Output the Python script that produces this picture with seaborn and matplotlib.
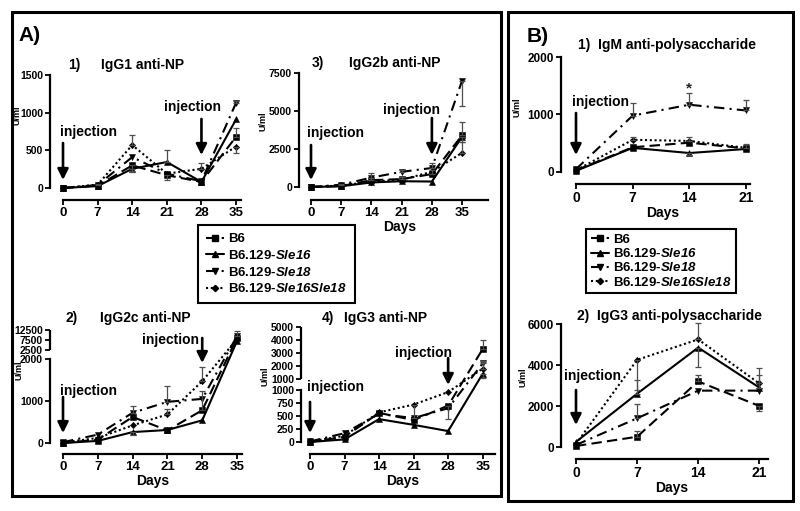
import numpy as np
import pandas as pd
import matplotlib
matplotlib.use("Agg")
import matplotlib.pyplot as plt
from matplotlib.lines import Line2D
from matplotlib.patches import Rectangle
import seaborn as sns

W, H = 800, 511

DAYS_A = [0, 7, 14, 21, 28, 35]
DAYS_B = [0, 7, 14, 21]
STRAINS = ["B6", "B6.129-Sle16", "B6.129-Sle18", "B6.129-Sle16Sle18"]
LEGEND_LABELS = ["B6", "B6.129-$\\mathrm{Sle16}$", "B6.129-$\\mathrm{Sle18}$",
                 "B6.129-$\\mathrm{Sle16Sle18}$"]

# values (U/ml); errors: + upward bar, - downward bar
IGG1_B6 = [0, 30, 300, 170, 80, 680]
IGG1_SLE16 = [0, 25, 255, 345, 80, 910]
IGG1_SLE18 = [0, 40, 410, 190, 90, 1130]
IGG1_DOUBLE = [0, 45, 570, 190, 255, 550]
IGG1_ERR_B6 = [0, 0, -80, -70, 0, 120]
IGG1_ERR_SLE16 = [0, 0, -40, 160, 0, 0]
IGG1_ERR_SLE18 = [0, 15, 0, 0, 0, 20]
IGG1_ERR_DOUBLE = [0, 0, 140, 0, 80, -80]

IGG2B_B6 = [0, 60, 450, 520, 850, 3400]
IGG2B_SLE16 = [0, 50, 300, 380, 360, 3300]
IGG2B_SLE18 = [0, 150, 620, 1000, 1250, 7000]
IGG2B_DOUBLE = [0, 100, 350, 480, 1000, 2250]
IGG2B_ERR_B6 = [0, 0, 150, 150, 300, 900]
IGG2B_ERR_SLE16 = [0, 0, 0, 0, 0, -350]
IGG2B_ERR_SLE18 = [0, 50, 300, 100, 300, -1700]
IGG2B_ERR_DOUBLE = [0, 0, 0, 0, 0, 700]

IGG2C_B6 = [0, 80, 620, 300, 780, 8500]
IGG2C_SLE16 = [0, 50, 260, 310, 540, 7000]
IGG2C_SLE18 = [20, 200, 720, 980, 1050, 9500]
IGG2C_DOUBLE = [10, 120, 420, 680, 1470, 8000]
IGG2C_ERR_B6 = [0, 0, 0, 0, 450, 0]
IGG2C_ERR_SLE16 = [0, 0, -60, 0, 0, 0]
IGG2C_ERR_SLE18 = [0, 0, 170, 370, 0, 2500]
IGG2C_ERR_DOUBLE = [0, 0, 0, 120, 330, 0]

IGG3_B6 = [0, 100, 560, 420, 700, 3300]
IGG3_SLE16 = [0, 50, 440, 330, 210, 1400]
IGG3_SLE18 = [10, 170, 540, 460, 650, 2200]
IGG3_DOUBLE = [10, 120, 570, 720, 960, 1800]
IGG3_ERR_B6 = [0, 0, 0, 0, -260, 700]
IGG3_ERR_SLE16 = [0, 0, 0, 0, 0, -350]
IGG3_ERR_SLE18 = [0, 0, 0, 260, 0, 200]
IGG3_ERR_DOUBLE = [0, 0, 0, 0, 0, 500]

IGM_B6 = [30, 430, 510, 410]
IGM_SLE16 = [20, 420, 330, 400]
IGM_SLE18 = [50, 980, 1170, 1070]
IGM_DOUBLE = [30, 560, 540, 420]
IGM_ERR_B6 = [0, 0, 0, 0]
IGM_ERR_SLE16 = [0, 0, -30, 0]
IGM_ERR_SLE18 = [0, 220, 200, 180]
IGM_ERR_DOUBLE = [0, 50, 60, 60]

POLY_B6 = [50, 500, 3200, 2000]
POLY_SLE16 = [250, 2600, 4850, 2900]
POLY_SLE18 = [100, 1400, 2750, 2750]
POLY_DOUBLE = [150, 4250, 5250, 3100]
POLY_ERR_B6 = [0, 300, 300, -250]
POLY_ERR_SLE16 = [0, 650, -950, 600]
POLY_ERR_SLE18 = [0, 700, 0, 0]
POLY_ERR_DOUBLE = [0, -1450, 800, 750]

DASHES = {"B6": (5, 2.5), "B6.129-Sle16": "", "B6.129-Sle18": (5, 2.5, 1, 2.5),
          "B6.129-Sle16Sle18": (1, 1.3)}
MARKERS = {"B6": "s", "B6.129-Sle16": "^", "B6.129-Sle18": "v", "B6.129-Sle16Sle18": "D"}

sns.set_theme(style="ticks")
plt.rcParams["font.family"] = ["Liberation Sans", "DejaVu Sans"]
plt.rcParams["font.weight"] = "bold"
plt.rcParams["axes.labelweight"] = "bold"
plt.rcParams["mathtext.fontset"] = "custom"
plt.rcParams["mathtext.rm"] = "Liberation Sans:italic:bold"
plt.rcParams["mathtext.it"] = "Liberation Sans:italic:bold"

fig = plt.figure(figsize=(W / 100, H / 100), dpi=100)
fig.patch.set_facecolor("white")


def px(x, y):
    return x / W, 1 - y / H


def add_axes(x0, x1, ybot, ytop):
    return fig.add_axes([x0 / W, 1 - ybot / H, (x1 - x0) / W, (ybot - ytop) / H])


def broken_scale(b_lo, b_hi, a1, a2, off):
    # piecewise y scale: lower segment up to b_lo, jump, upper segment from b_hi
    t_lo = b_lo * a1

    def fwd(v):
        v = np.asarray(v, dtype=float)
        return np.where(v <= b_lo, v * a1, off + (v - b_hi) * a2)

    def inv(t):
        t = np.asarray(t, dtype=float)
        up = b_hi + (t - off) / a2
        return np.where(t <= t_lo, t / a1, np.where(up < b_hi, b_lo, up))
    return fwd, inv


def draw_panel(ax, days, series, errors, xmax, ymax, yticks, ytl, off_l, off_b,
               xfs, yfs, xlabel=True, scale=None, lower_top=None, upper_bottom=None):
    df = pd.DataFrame({
        "day": np.tile(days, len(STRAINS)),
        "value": np.concatenate([np.asarray(s, dtype=float) for s in series]),
        "strain": np.repeat(STRAINS, len(days)),
    })
    if scale is not None:
        ax.set_yscale("function", functions=scale)
    sns.lineplot(data=df, x="day", y="value", style="strain", style_order=STRAINS,
                 dashes=DASHES, markers=MARKERS, color="black", lw=1.5, markersize=4.3,
                 markeredgecolor="black", markeredgewidth=0.4, estimator=None,
                 legend=False, ax=ax)
    for ln in ax.lines:
        ln.set_clip_on(False)
        if ln.get_marker() == "D":
            ln.set_markersize(3.2)
    for vals, errs in zip(series, errors):
        e = np.asarray(errs, dtype=float)
        v = np.asarray(vals, dtype=float)
        m = e != 0
        if not m.any():
            continue
        ebc = ax.errorbar(np.asarray(days)[m], v[m],
                          yerr=[np.clip(-e[m], 0, None), np.clip(e[m], 0, None)],
                          fmt="none", ecolor="#4d4d4d", elinewidth=0.9, capsize=2,
                          capthick=0.9)
        for a in ebc.get_children():
            a.set_clip_on(False)
    ax.set_xlim(0, xmax)
    ax.set_ylim(0, ymax)
    ax.patch.set_visible(False)
    ax.grid(False)
    for s in ("top", "right"):
        ax.spines[s].set_visible(False)
    for s in ("left", "bottom"):
        ax.spines[s].set_linewidth(1.6)
        ax.spines[s].set_color("black")
    width_px = ax.get_position().width * W
    lx = -off_l / width_px
    ax.spines["left"].set_position(("axes", lx))
    ax.spines["bottom"].set_position(("outward", off_b * 0.72))
    ax.spines["bottom"].set_bounds(0, xmax)
    ax.spines["left"].set_bounds(0, lower_top if lower_top else ymax)
    if lower_top:
        ax.plot([lx, lx], [upper_bottom, ymax], transform=ax.get_yaxis_transform(),
                color="black", lw=1.6, clip_on=False, solid_capstyle="butt")
    ax.set_xticks(days)
    ax.set_xticklabels([str(d) for d in days], fontsize=xfs, fontweight="bold")
    ax.set_yticks(yticks)
    ax.set_yticklabels(ytl, fontsize=yfs, fontweight="bold")
    ax.tick_params(axis="both", direction="out", length=3.5, width=1.3, color="black",
                   pad=1.5, labelcolor="black")
    ax.set_ylabel("")
    if xlabel:
        ax.set_xlabel("Days", fontsize=10, fontweight="bold", labelpad=1, color="black")
    else:
        ax.set_xlabel("")


def injection(ax, day, tip, tail, tx, ty, ha="left"):
    tr = ax.get_xaxis_transform()
    ax.annotate("", xy=(day, tip), xytext=(day, tail), xycoords=tr, textcoords=tr,
                arrowprops=dict(arrowstyle="-|>", color="black", lw=1.9,
                                mutation_scale=16, shrinkA=0, shrinkB=0),
                annotation_clip=False)
    ax.text(tx, ty, "injection", transform=tr, ha=ha, va="center", fontsize=10,
            fontweight="bold", color="black")


# Panel A1 IgG1
ax1 = add_axes(63, 241, 188, 75)
draw_panel(ax1, DAYS_A, [IGG1_B6, IGG1_SLE16, IGG1_SLE18, IGG1_DOUBLE],
           [IGG1_ERR_B6, IGG1_ERR_SLE16, IGG1_ERR_SLE18, IGG1_ERR_DOUBLE],
           36, 1500, [0, 500, 1000, 1500], ["0", "500", "1000", "1500"], 13, 12,
           9.5, 7.5, xlabel=False)
injection(ax1, 0, 0.071, 0.398, -0.6, 0.50)
injection(ax1, 28, 0.292, 0.611, 26.1, 0.717, ha="center")

# Panel A3 IgG2b
ax3 = add_axes(311, 488, 187, 73)
draw_panel(ax3, DAYS_A, [IGG2B_B6, IGG2B_SLE16, IGG2B_SLE18, IGG2B_DOUBLE],
           [IGG2B_ERR_B6, IGG2B_ERR_SLE16, IGG2B_ERR_SLE18, IGG2B_ERR_DOUBLE],
           41, 7500, [0, 2500, 5000, 7500], ["0", "2500", "5000", "7500"], 12, 13,
           9.5, 7.5)
injection(ax3, 0, 0.061, 0.368, -0.9, 0.474)
injection(ax3, 28, 0.281, 0.605, 23.2, 0.675, ha="center")

# Panel A2 IgG2c (broken axis)
ax2 = add_axes(63, 242, 443, 330)
draw_panel(ax2, DAYS_A, [IGG2C_B6, IGG2C_SLE16, IGG2C_SLE18, IGG2C_DOUBLE],
           [IGG2C_ERR_B6, IGG2C_ERR_SLE16, IGG2C_ERR_SLE18, IGG2C_ERR_DOUBLE],
           36, 12500, [0, 1000, 2000, 2500, 7500, 12500],
           ["0", "1000", "2000", "2500", "7500", "12500"], 13, 11, 9.5, 7.5,
           scale=broken_scale(2000, 2500, 0.042, 0.002, 93), lower_top=2000,
           upper_bottom=2500)
injection(ax2, 0, 0.088, 0.407, -0.6, 0.46)
injection(ax2, 28, 0.708, 0.929, 21.7, 0.912, ha="center")

# Panel A4 IgG3 (broken axis)
ax4 = add_axes(310, 495, 442, 327)
draw_panel(ax4, DAYS_A, [IGG3_B6, IGG3_SLE16, IGG3_SLE18, IGG3_DOUBLE],
           [IGG3_ERR_B6, IGG3_ERR_SLE16, IGG3_ERR_SLE18, IGG3_ERR_DOUBLE],
           37.5, 5000, [0, 250, 500, 750, 1000, 1000.001, 2000, 3000, 4000, 5000],
           ["0", "250", "500", "750", "1000", "1000", "2000", "3000", "4000", "5000"],
           9, 12, 9.5, 7.5,
           scale=broken_scale(1000, 1000, 0.052, 0.013, 63), lower_top=1000,
           upper_bottom=1000.001)
injection(ax4, 0, 0.078, 0.348, -0.6, 0.478)
injection(ax4, 28, 0.496, 0.730, 23.1, 0.774, ha="center")

# Panel B1 IgM
ax5 = add_axes(576, 750, 172, 57)
draw_panel(ax5, DAYS_B, [IGM_B6, IGM_SLE16, IGM_SLE18, IGM_DOUBLE],
           [IGM_ERR_B6, IGM_ERR_SLE16, IGM_ERR_SLE18, IGM_ERR_DOUBLE],
           21.5, 2000, [0, 1000, 2000], ["0", "1000", "2000"], 15, 12, 10, 8.5)
injection(ax5, 0, 0.148, 0.513, -0.5, 0.61)
ax5.text(14, 1460, "*", ha="center", va="center", fontsize=11, fontweight="bold")

# Panel B2 IgG3 anti-polysaccharide
ax6 = add_axes(576, 768, 447, 324)
draw_panel(ax6, DAYS_B, [POLY_B6, POLY_SLE16, POLY_SLE18, POLY_DOUBLE],
           [POLY_ERR_B6, POLY_ERR_SLE16, POLY_ERR_SLE18, POLY_ERR_DOUBLE],
           22, 6000, [0, 2000, 4000, 6000], ["0", "2000", "4000", "6000"], 15, 12,
           10, 8.5)
injection(ax6, 0, 0.179, 0.463, -1.4, 0.577)


def ftext(x, y, s, **kw):
    fig.text(*px(x, y), s, fontweight="bold", color="black", **kw)


ftext(18, 35, "A)", fontsize=15, ha="left", va="center")
ftext(527, 37, "B)", fontsize=15, ha="left", va="center")
ftext(68, 65, "1)", fontsize=10, ha="left", va="center")
ftext(143, 65, "IgG1 anti-NP", fontsize=10, ha="center", va="center")
ftext(312, 63, "3)", fontsize=10, ha="left", va="center")
ftext(395, 63, "IgG2b anti-NP", fontsize=10, ha="center", va="center")
ftext(65, 318, "2)", fontsize=10, ha="left", va="center")
ftext(145, 318, "IgG2c anti-NP", fontsize=10, ha="center", va="center")
ftext(322, 318, "4)", fontsize=10, ha="left", va="center")
ftext(386, 318, "IgG3 anti-NP", fontsize=10, ha="center", va="center")
ftext(578, 45, "1)  IgM anti-polysaccharide", fontsize=10, ha="left", va="center")
ftext(577, 316, "2)  IgG3 anti-polysaccharide", fontsize=10, ha="left", va="center")

for x, y in [(17, 115), (263, 121), (19, 370), (265, 376), (517, 107), (523, 377)]:
    ftext(x, y, "U/ml", fontsize=6.5, ha="center", va="center", rotation=90)

# legends
handles = []
for s in STRAINS:
    d = DASHES[s]
    h = Line2D([], [], color="black", lw=1.5, marker=MARKERS[s],
               markersize=3.2 if MARKERS[s] == "D" else 4.3, markeredgecolor="black")
    if d:
        h.set_dashes(d)
    handles.append(h)

for (lx, ly), sp, bp in [((198, 225), 0.28, 0.6), ((586, 229), 0.1, 0.35)]:
    leg = fig.legend(handles, LEGEND_LABELS, loc="upper left",
                     bbox_to_anchor=px(lx, ly), frameon=True, fancybox=False,
                     edgecolor="black", framealpha=1, handlelength=1.4,
                     handletextpad=0.3, labelspacing=sp, borderpad=bp,
                     borderaxespad=0, prop={"weight": "bold", "size": 9.5})
    leg.get_frame().set_linewidth(1.5)
    for t in leg.get_texts():
        t.set_color("black")

# outer boxes
for x0, y0, x1, y1 in [(12, 12, 501, 496), (508, 12, 793, 501)]:
    fig.add_artist(Rectangle(px(x0, y1), (x1 - x0) / W, (y1 - y0) / H,
                             transform=fig.transFigure, fill=False, lw=2.2,
                             edgecolor="black"))

fig.savefig("out.png", dpi=100, facecolor="white")
